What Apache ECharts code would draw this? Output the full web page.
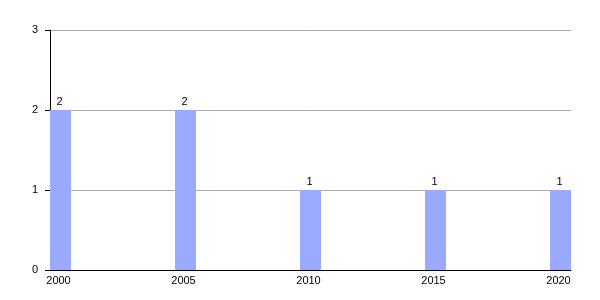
<!DOCTYPE html>
<html><head><meta charset="utf-8">
<script src="https://cdn.jsdelivr.net/npm/echarts@6/dist/echarts.min.js"></script>
<style>html,body{margin:0;padding:0;background:#fff}#c{width:600px;height:300px}</style>
</head><body><div id="c"></div>
<script>
const years = [2000, 2005, 2010, 2015, 2020];
const counts = [2, 2, 1, 1, 1];
const yTicks = [0, 1, 2, 3];

const chart = echarts.init(document.getElementById('c'), null, {renderer: 'canvas'});
const data = years.map((y, i) => [y, counts[i]]);
const BAR_W = 21;
chart.setOption({
  animation: false,
  grid: {left: 50, right: 29, top: 30, bottom: 30},
  xAxis: {
    type: 'value', min: 2000, max: 2020.84, interval: 5,
    axisLine: {show: true, lineStyle: {color: '#000', width: 1}},
    axisTick: {show: false},
    splitLine: {show: false},
    axisLabel: {
      color: '#000', fontFamily: 'Liberation Sans, Arial', fontSize: 11, margin: 5,
      padding: [0, 0, 0, 17],
      formatter: v => (years.indexOf(v) >= 0 ? String(v) : '')
    }
  },
  yAxis: {
    type: 'value', min: 0, max: 3, interval: 1,
    axisLine: {show: true, lineStyle: {color: '#000', width: 1}},
    axisTick: {show: true, length: 5, lineStyle: {color: '#000'}},
    splitLine: {show: true, lineStyle: {color: '#aaa', width: 1}},
    axisLabel: {color: '#000', fontFamily: 'Liberation Sans, Arial', fontSize: 11, margin: 12,
      formatter: v => (yTicks.indexOf(v) >= 0 ? String(v) : '')}
  },
  series: [{
    type: 'custom',
    data: data,
    clip: false,
    renderItem: function (params, api) {
      const p0 = api.coord([api.value(0), 0]);
      const p1 = api.coord([api.value(0), api.value(1)]);
      return {
        type: 'group',
        children: [{
          type: 'rect',
          shape: {x: p0[0], y: p1[1], width: BAR_W, height: p0[1] - p1[1]},
          style: {fill: '#99aaff'}
        }, {
          type: 'text',
          style: {
            text: String(api.value(1)), x: p0[0] + BAR_W / 2 - 1, y: p1[1] - 3,
            align: 'center', verticalAlign: 'bottom',
            fill: '#000', font: '11px "Liberation Sans", Arial'
          }
        }]
      };
    }
  }]
});
</script></body></html>
